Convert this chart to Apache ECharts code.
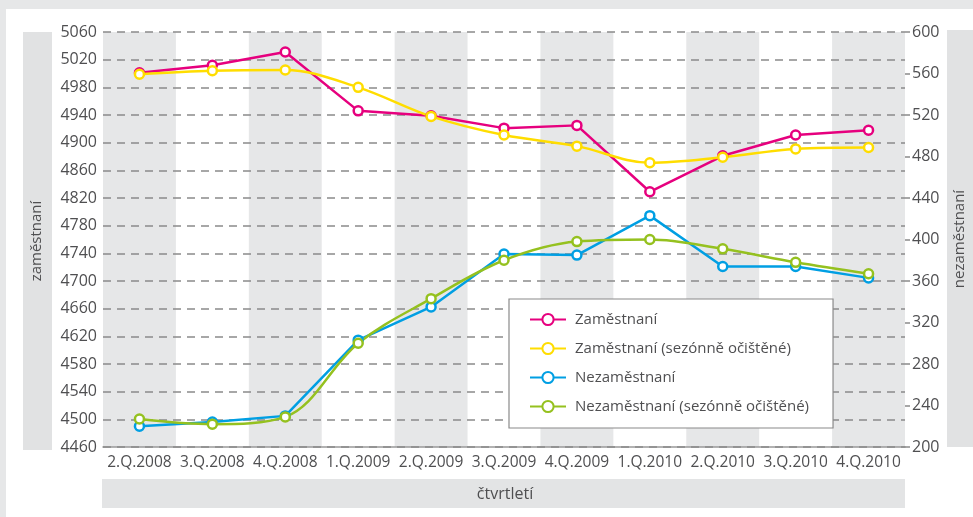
<!DOCTYPE html>
<html><head><meta charset="utf-8">
<script src="https://cdn.jsdelivr.net/npm/echarts@6/dist/echarts.min.js"></script>
<style>html,body{margin:0;padding:0;background:#e6e7e8}#c{width:973px;height:517px}</style>
</head><body><div id="c"></div>
<script>
const categories = ['2.Q.2008','3.Q.2008','4.Q.2008','1.Q.2009','2.Q.2009','3.Q.2009','4.Q.2009','1.Q.2010','2.Q.2010','3.Q.2010','4.Q.2010'];
const zamestnani = [5001, 5012, 5031, 4946, 4939, 4921, 4925, 4829, 4881, 4911, 4918];
const zamestnaniSA = [4999, 5004, 5005, 4980, 4938, 4911, 4895, 4871, 4879, 4891, 4893];
const nezamestnani = [220, 224, 230, 303, 335, 386, 385, 423, 374, 374, 363];
const nezamestnaniSA = [227, 222, 229, 300, 343, 380, 398, 400, 391, 378, 367];
const leftTicks = {min: 4460, max: 5060, interval: 40};
const rightTicks = {min: 200, max: 600, interval: 40};
const seriesNames = ['Zaměstnaní','Zaměstnaní (sezónně očištěné)','Nezaměstnaní','Nezaměstnaní (sezónně očištěné)'];
const colors = ['#e6007e','#ffdd00','#009fe3','#95c11f'];

const FONT = 'Open Sans';
const TXT = '#4f4f51';
const chart = echarts.init(document.getElementById('c'));
function mk(name, data, color, yIdx, smooth){
  return {name, type:'line', data, yAxisIndex:yIdx, smooth: smooth ? 0.35 : false,
    symbol:'circle', symbolSize:9, showSymbol:true,
    lineStyle:{color, width:2.5}, itemStyle:{color:'#fff', borderColor:color, borderWidth:2.5},
    z: 3};
}
chart.setOption({
  backgroundColor:'#e6e7e8',
  animation:false,
  textStyle:{fontFamily:FONT},
  color: colors,
  graphic:[
    {type:'rect', shape:{x:6,y:9,width:967,height:508}, style:{fill:'#fff'}, z:-10, silent:true},
    {type:'rect', shape:{x:23,y:32,width:29,height:418}, style:{fill:'#e1e2e3'}, z:-9, silent:true},
    {type:'text', x:37, y:241, rotation:Math.PI/2, style:{text:'zaměstnaní', fill:TXT, font:'15px "Open Sans"', align:'center', verticalAlign:'middle'}, z:-8},
    {type:'rect', shape:{x:947,y:30,width:26,height:417}, style:{fill:'#e1e2e3'}, z:-9, silent:true},
    {type:'text', x:960, y:239, rotation:Math.PI/2, style:{text:'nezaměstnaní', fill:TXT, font:'15px "Open Sans"', align:'center', verticalAlign:'middle'}, z:-8},
    {type:'rect', shape:{x:102,y:479,width:803,height:29}, style:{fill:'#e3e4e5'}, z:-9, silent:true},
    {type:'text', x:505, y:494, style:{text:'čtvrtletí', fill:TXT, font:'16px "Open Sans"', align:'center', verticalAlign:'middle'}, z:-8}
  ],
  grid:{left:103, right:68, top:32, bottom:70, containLabel:false},
  legend:{
    data: seriesNames, orient:'vertical', left:509, top:299,
    backgroundColor:'#fff', borderColor:'#8a8a8a', borderWidth:1.2,
    padding:[13,24,14,20], itemGap:14, itemWidth:36, itemHeight:14,
    textStyle:{color:TXT, fontSize:15, fontFamily:FONT, padding:[0,0,0,4]},
    z:10
  },
  xAxis:{
    type:'category', data:categories, boundaryGap:true, z:0,
    axisLine:{lineStyle:{color:'#999', width:1.5}},
    axisTick:{show:false},
    axisLabel:{color:TXT, fontSize:15.5, margin:8, fontFamily:FONT, interval:0},
    splitArea:{show:true, interval:0, areaStyle:{color:['#e6e7e8','rgba(255,255,255,0)']}},
    splitLine:{show:false}
  },
  yAxis:[
    {type:'value', position:'left', min:leftTicks.min, max:leftTicks.max, interval:leftTicks.interval, z:2,
     axisLine:{show:false}, axisTick:{show:false},
     axisLabel:{color:TXT, fontSize:16, margin:6, fontFamily:FONT, formatter: v => String(v)},
     splitLine:{show:true, lineStyle:{color:'#8a8a8a', width:1.5, type:[8,6]}}},
    {type:'value', position:'right', min:rightTicks.min, max:rightTicks.max, interval:rightTicks.interval, z:2,
     axisLine:{show:false}, axisTick:{show:true, length:5, lineStyle:{color:'#8a8a8a', width:1.5}},
     axisLabel:{color:TXT, fontSize:16, margin:7, fontFamily:FONT, formatter: v => String(v)},
     splitLine:{show:false}}
  ],
  series:[
    mk(seriesNames[0], zamestnani, colors[0], 0, false),
    mk(seriesNames[1], zamestnaniSA, colors[1], 0, true),
    mk(seriesNames[2], nezamestnani, colors[2], 1, false),
    mk(seriesNames[3], nezamestnaniSA, colors[3], 1, true)
  ]
});
</script></body></html>
